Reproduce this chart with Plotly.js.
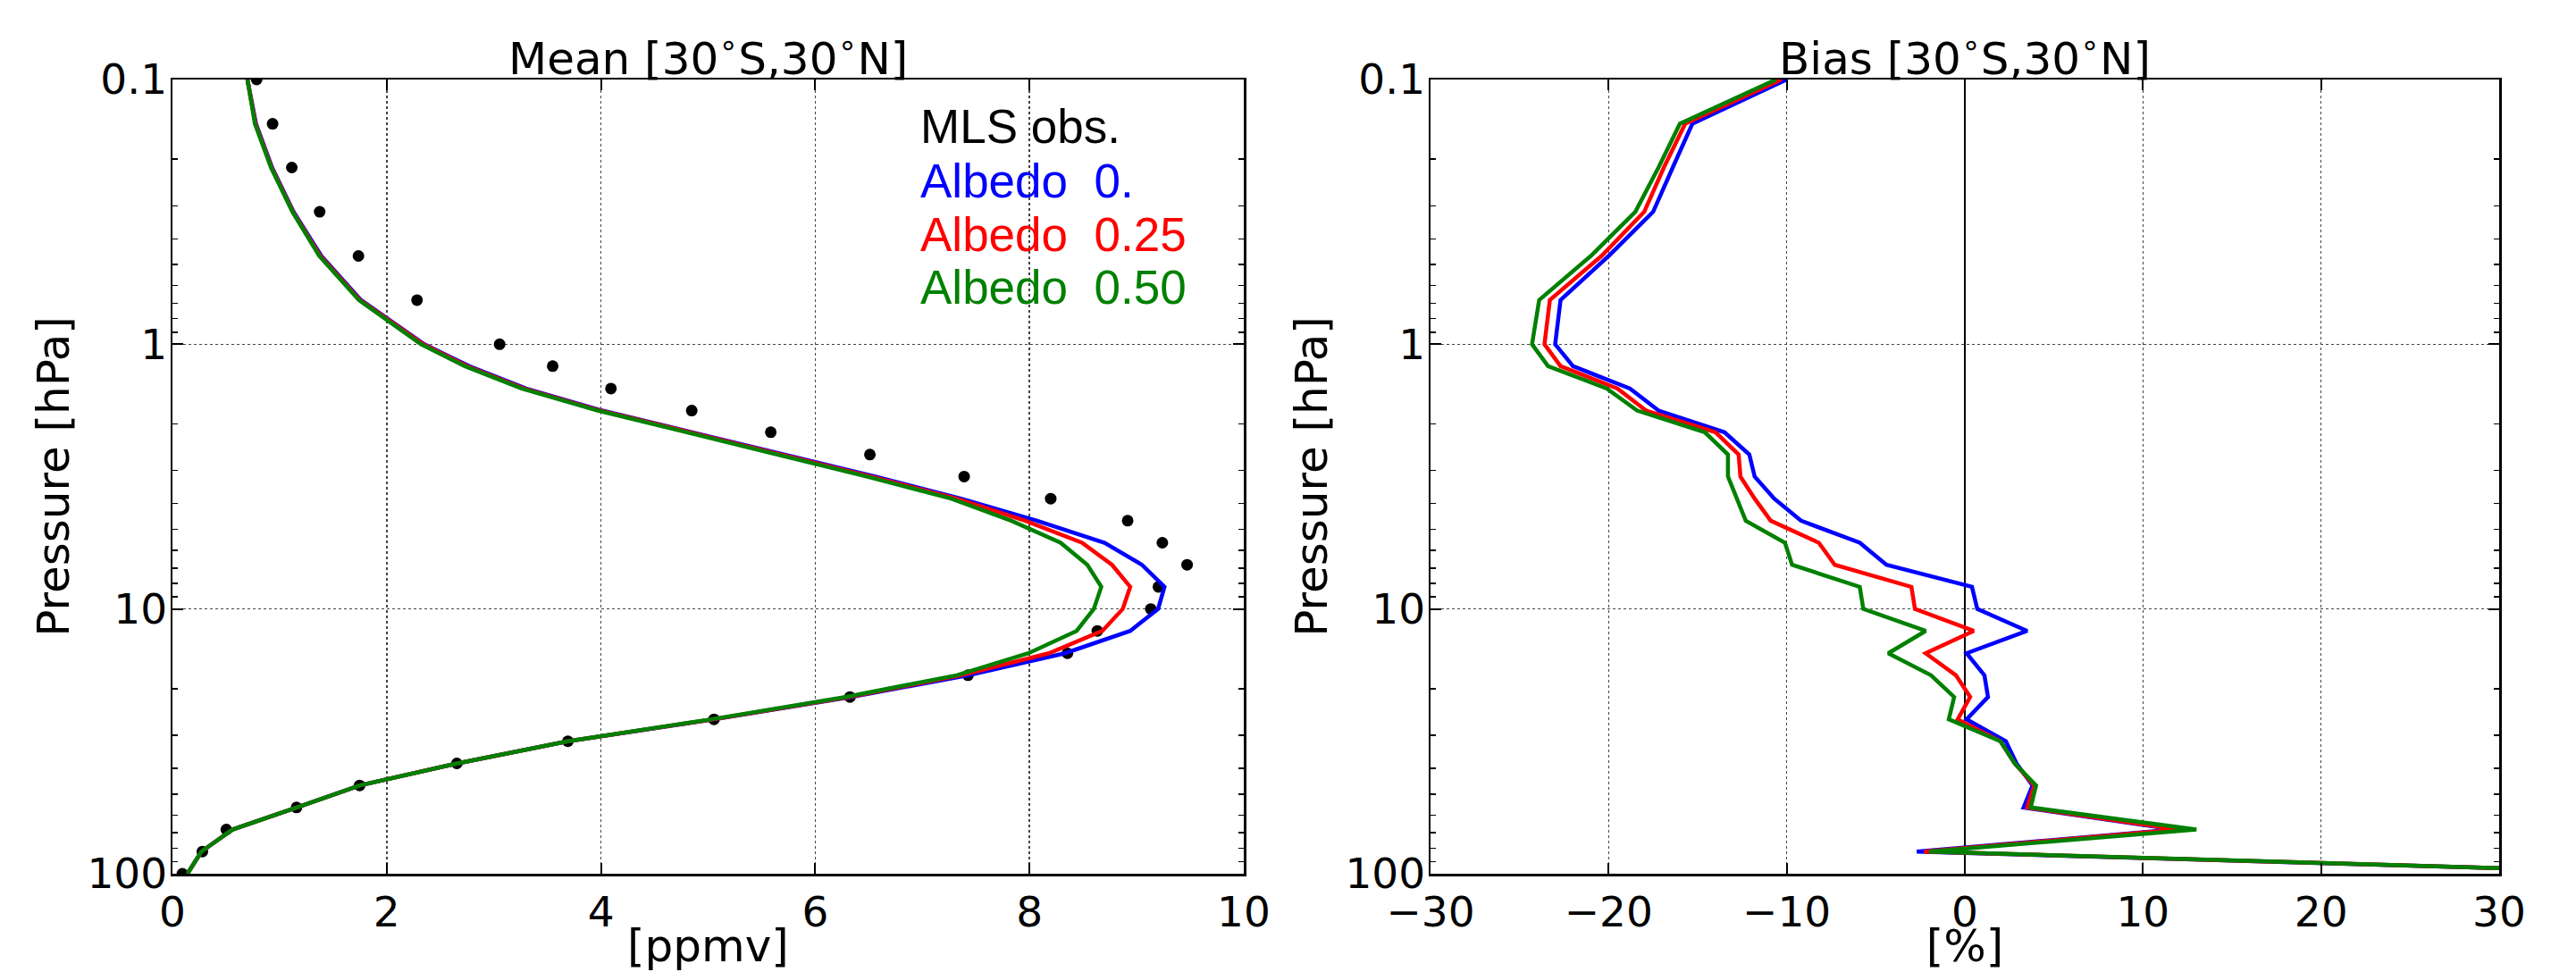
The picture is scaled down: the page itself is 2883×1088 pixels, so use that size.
<!DOCTYPE html>
<html>
<head>
<meta charset="utf-8">
<script src="https://cdn.plot.ly/plotly-3.0.1.min.js"></script>
<style>
html,body{margin:0;padding:0;background:#fff;}
#chart{width:2883px;height:1088px;}
</style>
</head>
<body>
<div id="chart"></div>
<script>
// Pressure levels [hPa], top (0.1) to bottom (100)
const pressure = [0.1, 0.147, 0.215, 0.316, 0.464, 0.681, 1.0, 1.21, 1.47, 1.78, 2.15, 2.61, 3.16, 3.83, 4.64, 5.62, 6.81, 8.25, 10.0, 12.1, 14.7, 17.8, 21.5, 26.1, 31.6, 38.3, 46.4, 56.2, 68.1, 82.5, 100];

// Mean H2O [ppmv]
const mlsObs   = [0.786, 0.935, 1.114, 1.374, 1.736, 2.283, 3.054, 3.549, 4.093, 4.847, 5.585, 6.51, 7.39, 8.198, 8.916, 9.24, 9.471, 9.203, 9.132, 8.633, 8.354, 7.426, 6.324, 5.055, 3.691, 2.655, 1.747, 1.158, 0.503, 0.279, 0.093];
const meanAlb000 = [0.70, 0.78, 0.93, 1.13, 1.39, 1.76, 2.35, 2.77, 3.30, 4.01, 4.85, 5.71, 6.56, 7.36, 8.07, 8.70, 9.05, 9.26, 9.20, 8.94, 8.33, 7.43, 6.33, 5.06, 3.69, 2.66, 1.75, 1.16, 0.56, 0.27, 0.14];
const meanAlb025 = [0.70, 0.775, 0.925, 1.125, 1.38, 1.75, 2.34, 2.75, 3.28, 3.99, 4.83, 5.68, 6.52, 7.32, 7.96, 8.49, 8.77, 8.94, 8.87, 8.68, 8.18, 7.36, 6.31, 5.05, 3.69, 2.66, 1.75, 1.16, 0.56, 0.27, 0.14];
const meanAlb050 = [0.70, 0.77, 0.92, 1.12, 1.37, 1.74, 2.32, 2.73, 3.26, 3.97, 4.80, 5.65, 6.48, 7.27, 7.83, 8.29, 8.54, 8.67, 8.60, 8.44, 7.99, 7.32, 6.28, 5.03, 3.69, 2.66, 1.75, 1.16, 0.56, 0.27, 0.14];

// Bias [%]
const biasAlb000 = [-10.0, -15.3, -16.4, -17.5, -20.0, -22.7, -23.0, -22.0, -18.8, -17.2, -13.5, -12.1, -11.8, -10.7, -9.2, -5.9, -4.4, 0.4, 0.7, 3.5, 0.1, 1.1, 1.3, 0.1, 2.3, 2.9, 3.8, 3.3, 11.8, -2.7, 41];
const biasAlb025 = [-10.3, -15.7, -16.9, -18.0, -20.4, -23.3, -23.6, -22.7, -19.5, -17.9, -14.0, -12.7, -12.6, -11.8, -10.9, -8.2, -7.3, -3.0, -2.8, 0.5, -2.2, -0.5, 0.3, -0.4, 2.0, 2.8, 3.9, 3.5, 12.0, -2.3, 41];
const biasAlb050 = [-10.6, -16.0, -17.2, -18.5, -21.0, -23.9, -24.3, -23.4, -20.1, -18.4, -14.6, -13.3, -13.3, -12.8, -12.3, -10.1, -9.7, -5.9, -5.7, -2.2, -4.3, -1.9, -0.6, -0.9, 2.0, 2.8, 4.0, 3.7, 13.0, -2.0, 41];

const seriesNames = ["Albedo\u00a0\u00a00.", "Albedo\u00a0\u00a00.25", "Albedo\u00a0\u00a00.50"];
const seriesColors = ["#0000ff", "#ff0000", "#008000"];
const obsName = "MLS obs.";

const yTickVals = [0.1, 1, 10, 100];
const yTickText = ["0.1", "1", "10", "100"];
const yMinorVals = [0.2,0.3,0.4,0.5,0.6,0.7,0.8,0.9, 2,3,4,5,6,7,8,9, 20,30,40,50,60,70,80,90];

const FONT = "DejaVu Sans";
const FS = 47;      // tick labels
const TFS = 50;     // titles
const LFS = 53;     // legend text
const W = 2883, H = 1088;

const traces = [];
traces.push({x: mlsObs, y: pressure, type: "scatter", mode: "markers", name: obsName,
  marker: {color: "#000", size: 13}, xaxis: "x", yaxis: "y", showlegend: false});
const means = [meanAlb000, meanAlb025, meanAlb050];
const biases = [biasAlb000, biasAlb025, biasAlb050];
for (let i = 0; i < 3; i++) {
  traces.push({x: means[i], y: pressure, type: "scatter", mode: "lines", name: seriesNames[i],
    line: {color: seriesColors[i], width: 4.5}, xaxis: "x", yaxis: "y", showlegend: false});
}
for (let i = 0; i < 3; i++) {
  traces.push({x: biases[i], y: pressure, type: "scatter", mode: "lines", name: seriesNames[i],
    line: {color: seriesColors[i], width: 4.5}, xaxis: "x2", yaxis: "y2", showlegend: false});
}

const pxX = v => v / W;
const pxY = v => 1 - v / H;

function xAxis(domain, range, dtick, title, zeroline) {
  return {
    domain: domain, range: range, dtick: dtick, tick0: 0,
    showline: true, linecolor: "#000", linewidth: 2.5, mirror: "allticks",
    ticks: "inside", ticklen: 12, tickwidth: 2, tickcolor: "#000",
    showgrid: true, gridcolor: "#444", gridwidth: 1.5, griddash: "dot",
    zeroline: zeroline, zerolinecolor: "#000", zerolinewidth: 2,
    tickfont: {family: FONT, size: FS, color: "#000"},
    title: {text: title, font: {family: FONT, size: TFS, color: "#000"}, standoff: 17},
    automargin: false, fixedrange: true
  };
}
function yAxis(domain, anchor) {
  return {
    domain: domain, anchor: anchor, type: "log", range: [2, -1],
    tickmode: "array", tickvals: yTickVals, ticktext: yTickText,
    showline: true, linecolor: "#000", linewidth: 2.5, mirror: "allticks",
    ticks: "inside", ticklen: 12, tickwidth: 2, tickcolor: "#000",
    minor: {tickmode: "array", tickvals: yMinorVals, ticks: "inside", ticklen: 6, tickwidth: 1.5, tickcolor: "#000", showgrid: false},
    showgrid: true, gridcolor: "#444", gridwidth: 1.5, griddash: "dot",
    zeroline: false,
    tickfont: {family: FONT, size: FS, color: "#000"},
    ticklabelstandoff: -6,
    title: {text: "Pressure [hPa]", font: {family: FONT, size: TFS, color: "#000"}, standoff: 4},
    automargin: false, fixedrange: true
  };
}

const yDom = [pxY(978), pxY(89)];
const layout = {
  width: W, height: H,
  margin: {l: 0, r: 0, t: 0, b: 0},
  paper_bgcolor: "#fff", plot_bgcolor: "#fff",
  showlegend: false,
  xaxis: Object.assign(xAxis([pxX(193), pxX(1392)], [0, 10], 2, "[ppmv]", false), {anchor: "y"}),
  yaxis: yAxis(yDom, "x"),
  xaxis2: Object.assign(xAxis([pxX(1601), pxX(2797)], [-30, 30], 10, "[%]", true), {anchor: "y2"}),
  yaxis2: yAxis(yDom, "x2"),
  annotations: [
    {text: "Mean [30<sup>∘</sup>S,30<sup>∘</sup>N]", xref: "paper", yref: "paper",
     x: pxX(792.5), y: pxY(62), xanchor: "center", yanchor: "middle", showarrow: false,
     font: {family: FONT, size: TFS, color: "#000"}},
    {text: "Bias [30<sup>∘</sup>S,30<sup>∘</sup>N]", xref: "paper", yref: "paper",
     x: pxX(2199), y: pxY(62), xanchor: "center", yanchor: "middle", showarrow: false,
     font: {family: FONT, size: TFS, color: "#000"}},
    {text: obsName, xref: "paper", yref: "paper", x: pxX(1028), y: pxY(142),
     xanchor: "left", yanchor: "middle", showarrow: false,
     font: {family: "Liberation Sans", size: LFS, color: "#000"}},
    {text: seriesNames[0], xref: "paper", yref: "paper", x: pxX(1028), y: pxY(202),
     xanchor: "left", yanchor: "middle", showarrow: false,
     font: {family: "Liberation Sans", size: LFS, color: seriesColors[0]}},
    {text: seriesNames[1], xref: "paper", yref: "paper", x: pxX(1028), y: pxY(262),
     xanchor: "left", yanchor: "middle", showarrow: false,
     font: {family: "Liberation Sans", size: LFS, color: seriesColors[1]}},
    {text: seriesNames[2], xref: "paper", yref: "paper", x: pxX(1028), y: pxY(321),
     xanchor: "left", yanchor: "middle", showarrow: false,
     font: {family: "Liberation Sans", size: LFS, color: seriesColors[2]}}
  ]
};

Plotly.newPlot("chart", traces, layout, {displayModeBar: false, staticPlot: true});
</script>
</body>
</html>
